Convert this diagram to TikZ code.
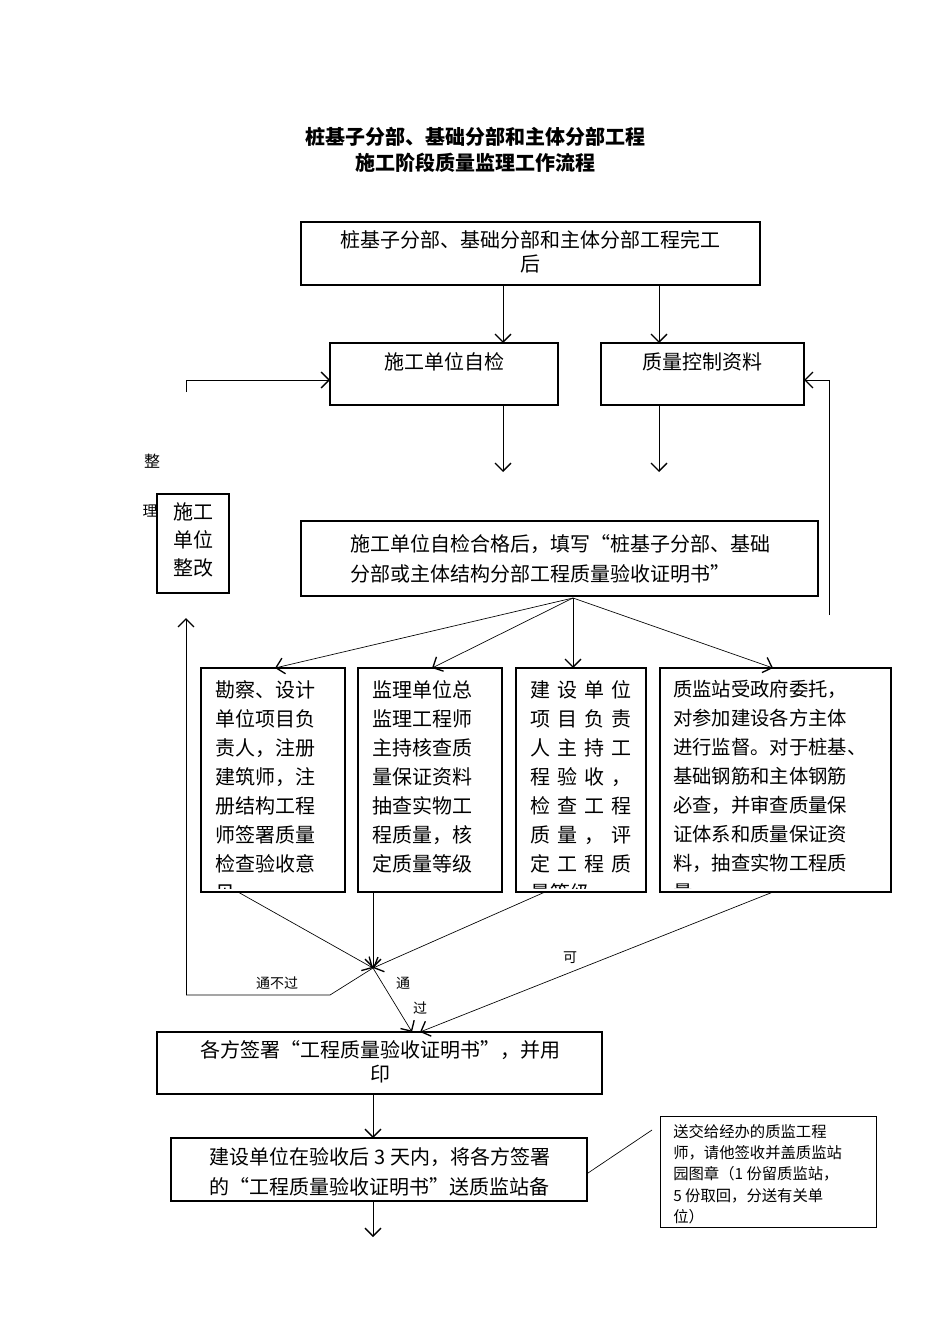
\documentclass[tikz,border=0pt]{standalone}
\usepackage{fontspec}
\setmainfont{Noto Sans CJK SC}
\usetikzlibrary{arrows.meta}
\tikzset{
  box/.style={draw,line width=1.6pt},
  thin/.style={draw,line width=0.6pt},
  arr/.style={line width=0.5pt,-{Straight Barb[length=6pt,width=12pt,line width=1pt]}},
  ln/.style={line width=0.5pt},
  txt/.style={inner sep=0pt,anchor=north west,align=left,font=\fontsize{15}{21.75}\selectfont},
  lab/.style={inner sep=0pt,font=\fontsize{10.5}{12}\selectfont}
}
\newcommand{\spr}[4]{\hbox to 76pt{#1\hfill #2\hfill #3\hfill #4}}
\begin{document}
\begin{tikzpicture}[x=0.75pt,y=-0.75pt]
\useasboundingbox (0,0) rectangle (950,1344);
% title
\node[inner sep=0pt,align=center,font=\fontsize{15}{19}\selectfont\bfseries] (title) at (475,150) {桩基子分部、基础分部和主体分部工程\\施工阶段质量监理工作流程};
% top
\draw[box] (301,222) rectangle (760,285);
\coordinate (topS1) at (503,285); \coordinate (topS2) at (659,285);
\node[inner sep=0pt,align=center,font=\fontsize{15}{18}\selectfont] (toptxt) at (530.5,252) {桩基子分部、基础分部和主体分部工程完工\\后};
% self check
\draw[box] (330,343) rectangle (558,405);
\node[inner sep=0pt,font=\fontsize{15}{18}\selectfont] (zj) at (444,362) {施工单位自检};
\coordinate (zjN) at (503,343); \coordinate (zjS) at (503,405); \coordinate (zjE) at (330,380);
\draw[box] (601,343) rectangle (804,405);
\node[inner sep=0pt,font=\fontsize{15}{18}\selectfont] (zl) at (702,362) {质量控制资料};
\coordinate (zlN) at (659,343); \coordinate (zlS) at (659,405); \coordinate (zlE) at (804,380);
\coordinate (e1) at (503,472); \coordinate (e2) at (659,472);
\draw[arr] (topS1) -- (zjN);
\draw[arr] (topS2) -- (zlN);
\draw[arr] (zjS) -- (e1);
\draw[arr] (zlS) -- (e2);
% rectify box
\draw[box] (157,494) rectangle (229,593);
\node[inner sep=0pt,align=center,font=\fontsize{15}{21}\selectfont] (zg) at (193,540) {施工\\单位\\整改};
\node[lab,font=\fontsize{12}{12}\selectfont] (l1) at (152,461) {整};
\node[lab,font=\fontsize{11}{12}\selectfont] (l2) at (150,511) {理};
% passed box
\draw[box] (301,521) rectangle (818,596);
\node[inner sep=0pt,align=left,font=\fontsize{15}{22}\selectfont] (hg) at (560,559) {施工单位自检合格后，填写“桩基子分部、基础\\分部或主体结构分部工程质量验收证明书”};
\coordinate (hgS) at (573,598);
% four boxes
\coordinate (b1N) at (275,668); \coordinate (b2N) at (432,668); \coordinate (b3N) at (573,668); \coordinate (b4N) at (773,668);
\draw[arr] (hgS) -- (b1N);
\draw[arr] (hgS) -- (b2N);
\draw[arr] (hgS) -- (b3N);
\draw[arr] (hgS) -- (b4N);
\begin{scope}\clip (201,668) rectangle (345,888);
\node[txt] (t1) at (215,680) {勘察、设计\\单位项目负\\责人，注册\\建筑师，注\\册结构工程\\师签署质量\\检查验收意\\见};
\end{scope}
\draw[box] (201,668) rectangle (345,892);
\begin{scope}\clip (358,668) rectangle (502,888);
\node[txt] (t2) at (372,680) {监理单位总\\监理工程师\\主持核查质\\量保证资料\\抽查实物工\\程质量，核\\定质量等级};
\end{scope}
\draw[box] (358,668) rectangle (502,892);
\begin{scope}\clip (516,668) rectangle (646,888);
\node[txt] (t3) at (530,680) {\spr{建}{设}{单}{位}\\\spr{项}{目}{负}{责}\\\spr{人}{主}{持}{工}\\\spr{程}{验}{收}{，}\\\spr{检}{查}{工}{程}\\\spr{质}{量}{，}{评}\\\spr{定}{工}{程}{质}\\量等级};
\end{scope}
\draw[box] (516,668) rectangle (646,892);
\begin{scope}\clip (660,668) rectangle (891,888);
\node[txt,font=\fontsize{14.5}{21.75}\selectfont] (t4) at (673,680) {质监站受政府委托，\\对参加建设各方主体\\进行监督。对于桩基、\\基础钢筋和主体钢筋\\必查，并审查质量保\\证体系和质量保证资\\料，抽查实物工程质\\量};
\end{scope}
\draw[box] (660,668) rectangle (891,892);
% convergence
\coordinate (b1S) at (238,892); \coordinate (b2S) at (373,892); \coordinate (b3S) at (545,892); \coordinate (b4S) at (773,892);
\coordinate (cv) at (373,968);
\coordinate (k1) at (330,995); \coordinate (k2) at (186,995); \coordinate (k3) at (186,618);
\coordinate (k4) at (186,380); \coordinate (k5) at (829,615); \coordinate (k6) at (829,380);
\draw[arr] (b1S) -- (cv);
\draw[arr] (b2S) -- (cv);
\draw[arr] (b3S) -- (cv);
\draw[ln] (cv) -- (k1) -- (k2);
\draw[arr] (k2) -- (k3);
\draw[arr] (186,392) -- (k4) -- (zjE);
\draw[arr] (k5) -- (k6) -- (zlE);
\node[lab] (l3) at (277,983) {通不过};
\node[lab] (l4) at (403,983) {通};
\node[lab] (l5) at (420,1008) {过};
\node[lab] (l6) at (570,958) {可};
% sign box
\coordinate (sgN) at (412,1032);
\draw[arr] (cv) -- (sgN);
\draw[arr] (b4S) -- (420,1032);
\draw[box] (157,1032) rectangle (602,1094);
\node[inner sep=0pt,align=center,font=\fontsize{15}{18}\selectfont] (sg) at (380,1062) {各方签署“工程质量验收证明书”，并用\\印};
\coordinate (sgS) at (373,1094);
\draw[box] (171,1138) rectangle (587,1201);
\node[inner sep=0pt,align=left,font=\fontsize{15}{22}\selectfont] (js) at (380,1172) {建设单位在验收后 3 天内，将各方签署\\的“工程质量验收证明书”送质监站备};
\coordinate (jsN) at (373,1138); \coordinate (jsS) at (373,1201); \coordinate (jsE) at (588,1173);
\coordinate (endp) at (373,1237);
\draw[arr] (sgS) -- (jsN);
\draw[arr] (jsS) -- (endp);
% note
\draw[thin] (660,1116) rectangle (876,1227);
\node[txt,font=\fontsize{11.5}{16}\selectfont] (note) at (673,1124) {送交给经办的质监工程\\师，请他签收并盖质监站\\园图章（1 份留质监站，\\ 5 份取回，分送有关单\\位）};
\coordinate (noteW) at (652,1130);
\draw[ln] (jsE) -- (noteW);
\end{tikzpicture}
\end{document}
